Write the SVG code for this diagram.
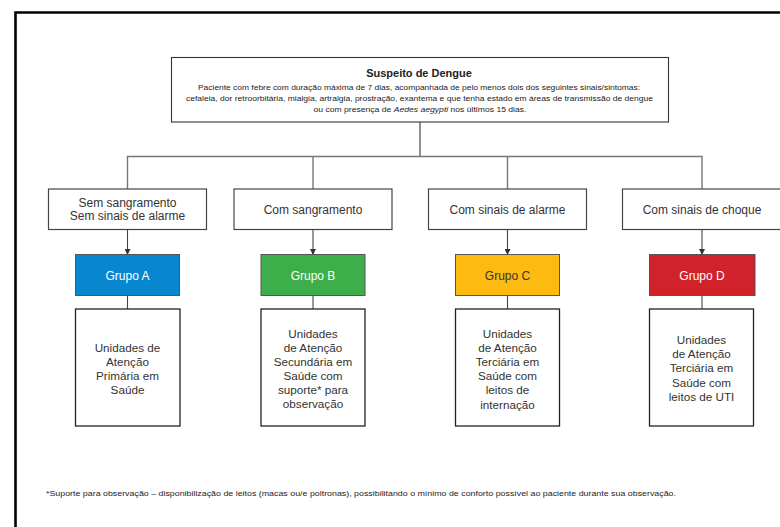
<svg xmlns="http://www.w3.org/2000/svg" width="780" height="527" viewBox="0 0 780 527">
<defs>
<style>
text{font-family:"Liberation Sans",Arial,sans-serif;text-anchor:middle;fill:#222}
.sm{font-size:7.4px}
.lbl{font-size:12px;fill:#333}
.grp{font-size:12px;fill:#fff}
.unit{font-size:11.7px;fill:#333}
.box{fill:#fff;stroke:#444;stroke-width:1.2}
.gbox{stroke:#555;stroke-width:1}
.ubox{fill:#fff;stroke:#222;stroke-width:1.3}
.tree{fill:none;stroke:#777;stroke-width:1.4}
.arr{fill:none;stroke:#444;stroke-width:1.1}
</style>
<marker id="ah" markerWidth="6" markerHeight="6" refX="5" refY="3" orient="auto" markerUnits="userSpaceOnUse">
<path d="M0,0 L6,3 L0,6 Z" fill="#333"/>
</marker>
</defs>
<rect width="780" height="527" fill="#fff"/>
<path d="M15.5,527 V12.5 H780" fill="none" stroke="#000" stroke-width="2.6"/>

<g id="connectors">
<line x1="420" y1="122" x2="420" y2="156" stroke="#222" stroke-width="1"/>
<path class="tree" d="M127.5,189 V156.5 H702 V189"/>
<line class="tree" x1="313" y1="156.5" x2="313" y2="189"/>
<line class="tree" x1="507.5" y1="156.5" x2="507.5" y2="189"/>
<line class="arr" x1="127.5" y1="229" x2="127.5" y2="254" marker-end="url(#ah)"/>
<line class="arr" x1="313" y1="229" x2="313" y2="254" marker-end="url(#ah)"/>
<line class="arr" x1="507.5" y1="229" x2="507.5" y2="254" marker-end="url(#ah)"/>
<line class="arr" x1="702" y1="229" x2="702" y2="254" marker-end="url(#ah)"/>
<line class="arr" x1="127.5" y1="295" x2="127.5" y2="309"/>
<line class="arr" x1="313" y1="295" x2="313" y2="309"/>
<line class="arr" x1="507.5" y1="295" x2="507.5" y2="309"/>
<line class="arr" x1="702" y1="295" x2="702" y2="309"/>
</g>

<g id="suspeito">
<rect x="171.5" y="57.5" width="497" height="64.5" fill="#fff" stroke="#333" stroke-width="1.1"/>
<text x="419" y="76.5" style="font-size:11px;font-weight:bold;fill:#222">Suspeito de Dengue</text>
<text class="sm" x="419" y="90" textLength="442" lengthAdjust="spacingAndGlyphs">Paciente com febre com duração máxima de 7 dias, acompanhada de pelo menos dois dos seguintes sinais/sintomas:</text>
<text class="sm" x="419.5" y="101" textLength="467" lengthAdjust="spacingAndGlyphs">cefaleia, dor retroorbitária, mialgia, artralgia, prostração, exantema e que tenha estado em áreas de transmissão de dengue</text>
<text class="sm" x="420" y="111.5" textLength="213" lengthAdjust="spacingAndGlyphs">ou com presença de <tspan font-style="italic">Aedes aegypti</tspan> nos últimos 15 dias.</text>
</g>

<g id="sem-sangramento">
<rect class="box" x="48.5" y="189" width="158" height="40.5"/>
<text class="lbl" x="127.5" y="207">Sem sangramento</text>
<text class="lbl" x="127.5" y="219.5">Sem sinais de alarme</text>
</g>
<g id="com-sangramento">
<rect class="box" x="234" y="189" width="158" height="40.5"/>
<text class="lbl" x="313" y="214">Com sangramento</text>
</g>
<g id="com-alarme">
<rect class="box" x="428.5" y="189" width="158" height="40.5"/>
<text class="lbl" x="507.5" y="214">Com sinais de alarme</text>
</g>
<g id="com-choque">
<rect class="box" x="622.5" y="189" width="160" height="40.5"/>
<text class="lbl" x="702" y="214">Com sinais de choque</text>
</g>

<g id="grupo-a">
<rect class="gbox" x="75.5" y="254.5" width="104" height="41" fill="#0887d0"/>
<text class="grp" x="127.5" y="280">Grupo A</text>
</g>
<g id="grupo-b">
<rect class="gbox" x="261" y="254.5" width="104" height="41" fill="#3dae4a"/>
<text class="grp" x="313" y="280">Grupo B</text>
</g>
<g id="grupo-c">
<rect class="gbox" x="455.5" y="254.5" width="104" height="41" fill="#fdbb12"/>
<text class="grp" x="507.5" y="280" style="fill:#333">Grupo C</text>
</g>
<g id="grupo-d">
<rect class="gbox" x="649.5" y="254.5" width="105.5" height="41" fill="#d1222c"/>
<text class="grp" x="702" y="280">Grupo D</text>
</g>

<g id="unidade-a">
<rect class="ubox" x="75.5" y="309" width="104.5" height="117"/>
<text class="unit" x="127.5" y="351.5">Unidades de</text>
<text class="unit" x="127.5" y="366">Atenção</text>
<text class="unit" x="127.5" y="380">Primária em</text>
<text class="unit" x="127.5" y="393.5">Saúde</text>
</g>
<g id="unidade-b">
<rect class="ubox" x="261" y="309" width="104" height="117"/>
<text class="unit" x="313" y="337.5">Unidades</text>
<text class="unit" x="313" y="351.5">de Atenção</text>
<text class="unit" x="313" y="365.5">Secundária em</text>
<text class="unit" x="313" y="380">Saúde com</text>
<text class="unit" x="313" y="394">suporte* para</text>
<text class="unit" x="313" y="408">observação</text>
</g>
<g id="unidade-c">
<rect class="ubox" x="455.5" y="309" width="104" height="117"/>
<text class="unit" x="507.5" y="337.5">Unidades</text>
<text class="unit" x="507.5" y="351.5">de Atenção</text>
<text class="unit" x="507.5" y="366">Terciária em</text>
<text class="unit" x="507.5" y="380">Saúde com</text>
<text class="unit" x="507.5" y="394">leitos de</text>
<text class="unit" x="507.5" y="409">internação</text>
</g>
<g id="unidade-d">
<rect class="ubox" x="649.5" y="309" width="104" height="117"/>
<text class="unit" x="701.5" y="343.5">Unidades</text>
<text class="unit" x="701.5" y="358">de Atenção</text>
<text class="unit" x="701.5" y="372">Terciária em</text>
<text class="unit" x="701.5" y="387">Saúde com</text>
<text class="unit" x="701.5" y="401">leitos de UTI</text>
</g>

<text class="sm" x="46" y="495.5" style="text-anchor:start" textLength="630" lengthAdjust="spacingAndGlyphs">*Suporte para observação – disponibilização de leitos (macas ou/e poltronas), possibilitando o mínimo de conforto possível ao paciente durante sua observação.</text>
</svg>
